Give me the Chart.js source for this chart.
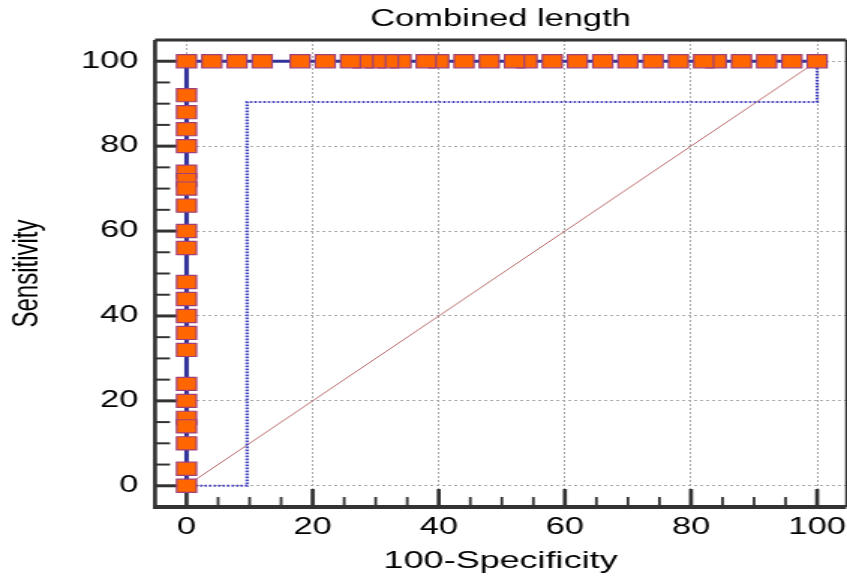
<!DOCTYPE html>
<html>
<head>
<meta charset="utf-8">
<script src="https://cdn.jsdelivr.net/npm/chart.js@4/dist/chart.umd.min.js"></script>
<style>
  body { margin: 0; background: #fff; }
  #chart { display: block; }
</style>
</head>
<body>
<canvas id="chart" width="565" height="580" style="width:847px;height:580px"></canvas>
<script>
// ROC points (100-Specificity, Sensitivity), drawn from the top right corner down
var markerX = [100, 96, 92, 88, 84, 82, 78, 74, 70, 66, 62, 58, 54, 52, 48, 44, 40, 38, 34, 32, 30, 28, 26, 22, 18, 12, 8, 4, 0,
  0, 0, 0, 0, 0, 0, 0, 0, 0, 0, 0, 0, 0, 0, 0, 0, 0, 0, 0, 0, 0, 0];
var markerY = [100, 100, 100, 100, 100, 100, 100, 100, 100, 100, 100, 100, 100, 100, 100, 100, 100, 100, 100, 100, 100, 100, 100, 100, 100, 100, 100, 100, 100,
  92, 88, 84, 80, 74, 72, 70, 66, 60, 56, 48, 44, 40, 36, 32, 24, 20, 16, 14, 10, 4, 0];

var rocX = [0, 0, 100];
var rocY = [0, 100, 100];

// dotted confidence bound
var ciX = [0, 9.6, 9.6, 100, 100];
var ciY = [0, 0, 90.4, 90.4, 100];

var diagX = [0, 100];
var diagY = [0, 100];

var xTicks = [0, 20, 40, 60, 80, 100];
var yTicks = [0, 20, 40, 60, 80, 100];

function pts(xs, ys) {
  return xs.map(function(v, i) { return { x: v, y: ys[i] }; });
}

// box frame with inward tick marks
var frame = {
  id: "frame",
  beforeDatasetsDraw: function(chart) {
    var ctx = chart.ctx;
    var a = chart.chartArea;
    var x = chart.scales.x;
    var y = chart.scales.y;
    ctx.save();
    ctx.strokeStyle = "#333";
    ctx.lineCap = "butt";
    function seg(x1, y1, x2, y2, w) {
      ctx.lineWidth = w;
      ctx.beginPath();
      ctx.moveTo(x1, y1);
      ctx.lineTo(x2, y2);
      ctx.stroke();
    }
    seg(a.right, a.top, a.right, a.bottom, 1.3);
    seg(a.left, a.top, a.right, a.top, 3);
    seg(a.left, a.top, a.left, a.bottom + 2, 2.7);
    seg(a.left - 1.3, a.bottom, a.right, a.bottom, 4);
    for (var v = 0; v <= 100; v += 5) {
      var major = v % 20 == 0;
      var px = x.getPixelForValue(v);
      var py = y.getPixelForValue(v);
      seg(px, a.bottom, px, a.bottom - (major ? 18 : 10), major ? 2.7 : 1.8);
      seg(a.left, py, a.left + (major ? 15 : 10), py, major ? 3 : 2);
    }
    ctx.restore();
  }
};

var font = "'Liberation Sans', Arial, sans-serif";

var chart = new Chart(document.getElementById("chart"), {
  type: "scatter",
  data: {
    datasets: [
      {
        data: pts(markerX, markerY),
        pointStyle: "rect",
        pointRadius: 9.3,
        pointBackgroundColor: "#ff6600",
        pointBorderColor: "#a0407a",
        pointBorderWidth: 1.2,
        showLine: false
      },
      {
        data: pts(rocX, rocY),
        showLine: true,
        borderColor: "#333399",
        borderWidth: 3,
        pointRadius: 0
      },
      {
        data: pts(ciX, ciY),
        showLine: true,
        borderColor: "#4040c0",
        borderWidth: 2.2,
        borderDash: [1.6, 1.4],
        pointRadius: 0
      },
      {
        data: pts(diagX, diagY),
        showLine: true,
        borderColor: "#b86a6a",
        borderWidth: 1,
        pointRadius: 0
      }
    ]
  },
  options: {
    responsive: false,
    devicePixelRatio: 1,
    animation: false,
    layout: { autoPadding: false, padding: { left: 0, right: 0.6, top: 0, bottom: 0 } },
    plugins: {
      legend: { display: false },
      tooltip: { enabled: false },
      title: {
        display: true,
        fullSize: false,
        text: "Combined length",
        color: "#000",
        font: { family: font, size: 23, weight: "normal" },
        padding: { top: 6, bottom: 6.4 }
      }
    },
    scales: {
      x: {
        type: "linear",
        min: -5,
        max: 104.6,
        afterBuildTicks: function(s) {
          s.ticks = xTicks.map(function(v) { return { value: v }; });
        },
        afterFit: function(s) {
          s.height = 73;
          s.paddingLeft = 0;
          s.paddingRight = 0;
        },
        grid: { color: "#aaa", lineWidth: 1, drawTicks: false },
        border: { display: false, dash: [2, 2] },
        ticks: {
          color: "#000",
          padding: 7,
          maxRotation: 0,
          font: { family: font, size: 23 }
        },
        title: {
          display: true,
          text: "100-Specificity",
          color: "#000",
          font: { family: font, size: 24 },
          padding: { top: 0, bottom: 4 }
        }
      },
      y: {
        type: "linear",
        min: -5,
        max: 105,
        afterBuildTicks: function(s) {
          s.ticks = yTicks.map(function(v) { return { value: v }; });
        },
        afterFit: function(s) {
          s.width = 103.4;
          s.paddingTop = 0;
          s.paddingBottom = 0;
        },
        grid: { color: "#aaa", lineWidth: 1, drawTicks: false },
        border: { display: false, dash: [2, 2] },
        ticks: {
          color: "#000",
          padding: 11,
          font: { family: font, size: 23 }
        },
        title: {
          display: true,
          text: "Sensitivity",
          color: "#000",
          font: { family: font, size: 24 },
          padding: { top: 4, bottom: 0 }
        }
      }
    }
  },
  plugins: [frame]
});
</script>
</body>
</html>
